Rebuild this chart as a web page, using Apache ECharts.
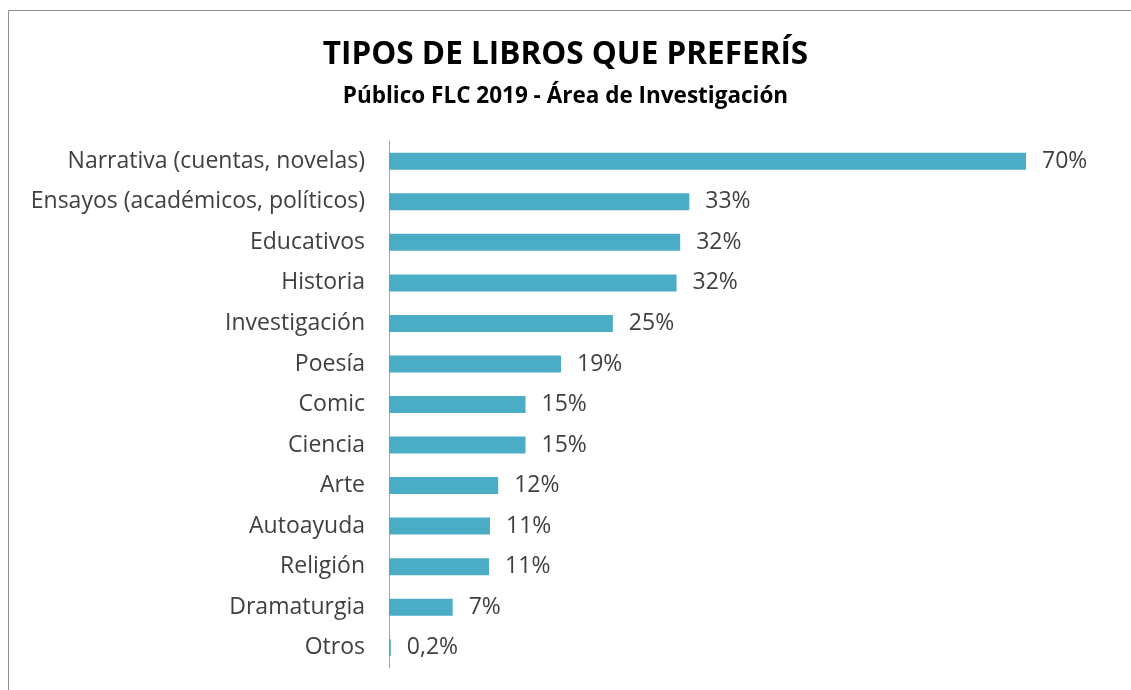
<!DOCTYPE html>
<html>
<head>
<meta charset="utf-8">
<script src="https://cdn.jsdelivr.net/npm/echarts@6/dist/echarts.min.js"></script>
<style>
  html, body { margin: 0; padding: 0; background: #fff; }
  #chart { width: 1131px; height: 690px; }
</style>
</head>
<body>
<div id="chart"></div>
<script>
// datos del gráfico
const categorias = [
  "Narrativa (cuentas, novelas)",
  "Ensayos (académicos, políticos)",
  "Educativos",
  "Historia",
  "Investigación",
  "Poesía",
  "Comic",
  "Ciencia",
  "Arte",
  "Autoayuda",
  "Religión",
  "Dramaturgia",
  "Otros"
];
const porcentajes = [70, 33, 32, 31.6, 24.6, 18.9, 15, 15, 12, 11.1, 11, 7, 0.2];

const chart = echarts.init(document.getElementById("chart"));
const font = "'Open Sans', 'Liberation Sans', sans-serif";

const option = {
  animation: false,
  backgroundColor: "#fff",
  title: {
    text: "TIPOS DE LIBROS QUE PREFERÍS",
    subtext: "Público FLC 2019 - Área de Investigación",
    left: "center",
    top: 34,
    itemGap: 14,
    textStyle: { fontFamily: font, fontSize: 31.5, fontWeight: "bold", color: "#000" },
    subtextStyle: { fontFamily: font, fontSize: 22.5, fontWeight: "bold", color: "#000" }
  },
  graphic: [{
    type: "rect",
    shape: { x: 8.5, y: 10.5, width: 1130, height: 700 },
    style: { fill: "none", stroke: "#8c8c8c", lineWidth: 1 },
    silent: true
  }],
  grid: { left: 389, top: 141, width: 637, height: 527 },
  xAxis: {
    type: "value",
    min: 0,
    max: 70,
    show: false
  },
  yAxis: {
    type: "category",
    inverse: true,
    data: categorias,
    axisLine: { show: true, lineStyle: { color: "#a6a6a6", width: 1 } },
    axisTick: { show: false },
    axisLabel: { fontFamily: font, fontSize: 23, color: "#404040", margin: 24, padding: [3, 0, 0, 0] }
  },
  series: [{
    type: "bar",
    data: porcentajes,
    barWidth: 17,
    itemStyle: { color: "#4BACC6" },
    label: {
      show: true,
      position: "right",
      distance: 16,
      fontFamily: font,
      fontSize: 23,
      color: "#404040",
      padding: [3, 0, 0, 0],
      formatter: (p) => p.value < 1 ? String(p.value).replace(".", ",") + "%" : Math.round(p.value) + "%"
    }
  }]
};
chart.setOption(option);
</script>
</body>
</html>
